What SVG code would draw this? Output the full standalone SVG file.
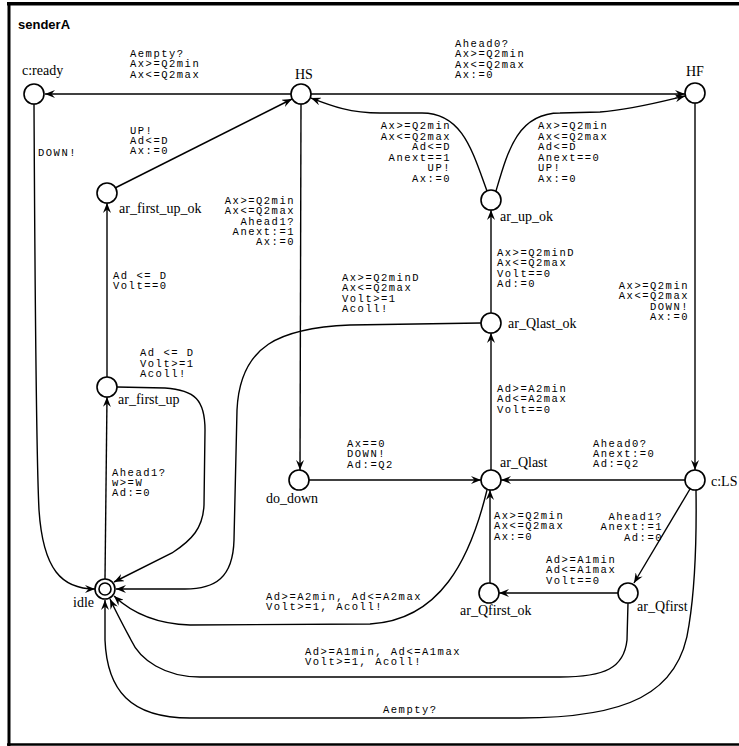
<svg xmlns="http://www.w3.org/2000/svg" width="739" height="746" viewBox="0 0 739 746">
<style>
.bg{fill:#fff}
.frame{fill:none;stroke:#000}
.title{font-family:"Liberation Sans",Arial,sans-serif;font-weight:bold;font-size:13px;fill:#000}
.loc{fill:#fff;stroke:#000;stroke-width:1.6}
.nl{font-family:"Liberation Serif","Times New Roman",serif;font-size:14px;fill:#000}
.e{fill:none;stroke:#000;stroke-width:1.4}
.lb{font-family:"Liberation Mono","Courier New",monospace;font-size:10.5px;letter-spacing:1.5px;fill:#000}
.r{text-anchor:end}
</style>
<defs>
<marker id="ah" viewBox="0 0 10 8" markerWidth="10" markerHeight="8" refX="10" refY="4" orient="auto" markerUnits="userSpaceOnUse">
<path d="M0,0 L10,4 L0,8 L3.5,4 z" fill="#000"/>
</marker>
</defs>
<rect class="bg" x="0" y="0" width="739" height="746"/>
<g id="frame">
<line class="frame" x1="7" y1="3.7" x2="739" y2="3.7" stroke-width="3.5"/>
<line class="frame" x1="9" y1="2" x2="9" y2="746" stroke-width="3"/>
<line class="frame" x1="7" y1="744.5" x2="739" y2="744.5" stroke-width="2.5"/>
<text class="title" x="18" y="29">senderA</text>
</g>
<g id="connectors">
<path class="e" d="M291,94 L45,94" marker-end="url(#ah)"/>
<path class="e" d="M311,94 L685,94" marker-end="url(#ah)"/>
<path class="e" d="M487,191 C472,150 462,113 422,113 L380,113 C350,113 332,106 311,98" marker-end="url(#ah)"/>
<path class="e" d="M496,191 C508,150 518,113 560,113 L600,112 C630,110 660,102 685,96" marker-end="url(#ah)"/>
<path class="e" d="M34,104 C35,300 36,450 39,510 C43,570 62,589 95,589" marker-end="url(#ah)"/>
<path class="e" d="M115,188 L292,99" marker-end="url(#ah)"/>
<path class="e" d="M301,104 L300,470" marker-end="url(#ah)"/>
<path class="e" d="M107,377 L107,203" marker-end="url(#ah)"/>
<path class="e" d="M117,387 L165,388 C195,390 205,400 205,430 L204,505 C203,528 192,540 172,553 L114,582" marker-end="url(#ah)"/>
<path class="e" d="M105,579 L107,397" marker-end="url(#ah)"/>
<path class="e" d="M481,323 L350,325 C280,328 240,345 237,410 L234,540 C233,578 215,589 185,589 L116,589" marker-end="url(#ah)"/>
<path class="e" d="M491,313 L491,210" marker-end="url(#ah)"/>
<path class="e" d="M491,470 L491,333" marker-end="url(#ah)"/>
<path class="e" d="M309,480 L481,480" marker-end="url(#ah)"/>
<path class="e" d="M695,103 L695,470" marker-end="url(#ah)"/>
<path class="e" d="M685,480 L501,480" marker-end="url(#ah)"/>
<path class="e" d="M690,489 L634,583" marker-end="url(#ah)"/>
<path class="e" d="M618,593 L499,593" marker-end="url(#ah)"/>
<path class="e" d="M490,583 L490,490" marker-end="url(#ah)"/>
<path class="e" d="M487,490 C470,560 440,620 370,624 L190,625 C158,624 133,614 114,596" marker-end="url(#ah)"/>
<path class="e" d="M628,603 L627,640 C624,668 605,677 560,677 L200,677 C165,677 140,660 131,640 C123,625 116,612 110,599" marker-end="url(#ah)"/>
<path class="e" d="M696,490 C697,560 693,600 689,625 C680,695 625,718 520,718 L190,718 C130,718 107,690 105,640 L105,600" marker-end="url(#ah)"/>
</g>
<g id="edge-labels">
<text class="lb" x="130" y="57"><tspan x="130">Aempty?</tspan><tspan x="130" dy="10.3">Ax&gt;=Q2min</tspan><tspan x="130" dy="10.3">Ax&lt;=Q2max</tspan></text>
<text class="lb" x="455" y="47"><tspan x="455">Ahead0?</tspan><tspan x="455" dy="10.4">Ax&gt;=Q2min</tspan><tspan x="455" dy="10.4">Ax&lt;=Q2max</tspan><tspan x="455" dy="10.4">Ax:=0</tspan></text>
<text class="lb r" x="451" y="129"><tspan x="451">Ax&gt;=Q2min</tspan><tspan x="451" dy="10.5">Ax&lt;=Q2max</tspan><tspan x="451" dy="10.5">Ad&lt;=D</tspan><tspan x="451" dy="10.5">Anext==1</tspan><tspan x="451" dy="10.5">UP!</tspan><tspan x="451" dy="10.5">Ax:=0</tspan></text>
<text class="lb" x="538" y="129"><tspan x="538">Ax&gt;=Q2min</tspan><tspan x="538" dy="10.5">Ax&lt;=Q2max</tspan><tspan x="538" dy="10.5">Ad&lt;=D</tspan><tspan x="538" dy="10.5">Anext==0</tspan><tspan x="538" dy="10.5">UP!</tspan><tspan x="538" dy="10.5">Ax:=0</tspan></text>
<text class="lb" x="38" y="156">DOWN!</text>
<text class="lb" x="130" y="134"><tspan x="130">UP!</tspan><tspan x="130" dy="10.2">Ad&lt;=D</tspan><tspan x="130" dy="10.2">Ax:=0</tspan></text>
<text class="lb r" x="295" y="204"><tspan x="295">Ax&gt;=Q2min</tspan><tspan x="295" dy="10.3">Ax&lt;=Q2max</tspan><tspan x="295" dy="10.3">Ahead1?</tspan><tspan x="295" dy="10.3">Anext:=1</tspan><tspan x="295" dy="10.3">Ax:=0</tspan></text>
<text class="lb" x="113" y="279"><tspan x="113">Ad &lt;= D</tspan><tspan x="113" dy="10.2">Volt==0</tspan></text>
<text class="lb" x="140" y="356"><tspan x="140">Ad &lt;= D</tspan><tspan x="140" dy="10.6">Volt&gt;=1</tspan><tspan x="140" dy="10.6">Acoll!</tspan></text>
<text class="lb" x="112" y="476"><tspan x="112">Ahead1?</tspan><tspan x="112" dy="9.8">w&gt;=W</tspan><tspan x="112" dy="10">Ad:=0</tspan></text>
<text class="lb" x="342" y="281"><tspan x="342">Ax&gt;=Q2minD</tspan><tspan x="342" dy="10.3">Ax&lt;=Q2max</tspan><tspan x="342" dy="10.3">Volt&gt;=1</tspan><tspan x="342" dy="10.3">Acoll!</tspan></text>
<text class="lb" x="497" y="256"><tspan x="497">Ax&gt;=Q2minD</tspan><tspan x="497" dy="10.4">Ax&lt;=Q2max</tspan><tspan x="497" dy="10.4">Volt==0</tspan><tspan x="497" dy="10.4">Ad:=0</tspan></text>
<text class="lb" x="497" y="392"><tspan x="497">Ad&gt;=A2min</tspan><tspan x="497" dy="10.3">Ad&lt;=A2max</tspan><tspan x="497" dy="10.3">Volt==0</tspan></text>
<text class="lb" x="347" y="447"><tspan x="347">Ax==0</tspan><tspan x="347" dy="10">DOWN!</tspan><tspan x="347" dy="10.5">Ad:=Q2</tspan></text>
<text class="lb r" x="689" y="289"><tspan x="689">Ax&gt;=Q2min</tspan><tspan x="689" dy="10.4">Ax&lt;=Q2max</tspan><tspan x="689" dy="10.4">DOWN!</tspan><tspan x="689" dy="10.4">Ax:=0</tspan></text>
<text class="lb" x="593" y="447"><tspan x="593">Ahead0?</tspan><tspan x="593" dy="10.2">Anext:=0</tspan><tspan x="593" dy="10.2">Ad:=Q2</tspan></text>
<text class="lb r" x="663" y="520"><tspan x="663">Ahead1?</tspan><tspan x="663" dy="10.3">Anext:=1</tspan><tspan x="663" dy="10.3">Ad:=0</tspan></text>
<text class="lb" x="546" y="563"><tspan x="546">Ad&gt;=A1min</tspan><tspan x="546" dy="10.4">Ad&lt;=A1max</tspan><tspan x="546" dy="10.4">Volt==0</tspan></text>
<text class="lb" x="494" y="519"><tspan x="494">Ax&gt;=Q2min</tspan><tspan x="494" dy="10.4">Ax&lt;=Q2max</tspan><tspan x="494" dy="10.4">Ax:=0</tspan></text>
<text class="lb" x="266" y="600"><tspan x="266">Ad&gt;=A2min, Ad&lt;=A2max</tspan><tspan x="266" dy="10">Volt&gt;=1, Acoll!</tspan></text>
<text class="lb" x="305" y="655"><tspan x="305">Ad&gt;=A1min, Ad&lt;=A1max</tspan><tspan x="305" dy="10">Volt&gt;=1, Acoll!</tspan></text>
<text class="lb" x="383" y="713">Aempty?</text>
</g>
<g id="n-ready"><circle class="loc" cx="34" cy="94" r="10"/><text class="nl" x="22" y="75">c:ready</text></g>
<g id="n-HS"><circle class="loc" cx="301" cy="94" r="10"/><text class="nl" x="295" y="79">HS</text></g>
<g id="n-HF"><circle class="loc" cx="695" cy="93" r="10"/><text class="nl" x="686" y="76">HF</text></g>
<g id="n-ar_first_up_ok"><circle class="loc" cx="107" cy="193" r="10"/><text class="nl" x="119" y="213">ar_first_up_ok</text></g>
<g id="n-ar_up_ok"><circle class="loc" cx="491" cy="200" r="10"/><text class="nl" x="500" y="221">ar_up_ok</text></g>
<g id="n-ar_Qlast_ok"><circle class="loc" cx="491" cy="323" r="10"/><text class="nl" x="508" y="328">ar_Qlast_ok</text></g>
<g id="n-ar_first_up"><circle class="loc" cx="107" cy="387" r="10"/><text class="nl" x="118" y="404">ar_first_up</text></g>
<g id="n-do_down"><circle class="loc" cx="299" cy="480" r="10"/><text class="nl" x="266" y="503">do_down</text></g>
<g id="n-ar_Qlast"><circle class="loc" cx="491" cy="480" r="10"/><text class="nl" x="500" y="467">ar_Qlast</text></g>
<g id="n-LS"><circle class="loc" cx="695" cy="480" r="10"/><text class="nl" x="711" y="486">c:LS</text></g>
<g id="n-ar_Qfirst_ok"><circle class="loc" cx="489" cy="593" r="10"/><text class="nl" x="460" y="615">ar_Qfirst_ok</text></g>
<g id="n-ar_Qfirst"><circle class="loc" cx="628" cy="593" r="10"/><text class="nl" x="637" y="611">ar_Qfirst</text></g>
<g id="n-idle"><circle class="loc" cx="105" cy="589" r="10"/><circle class="loc" cx="105" cy="589" r="6"/><text class="nl" x="73" y="607">idle</text></g>
</svg>
